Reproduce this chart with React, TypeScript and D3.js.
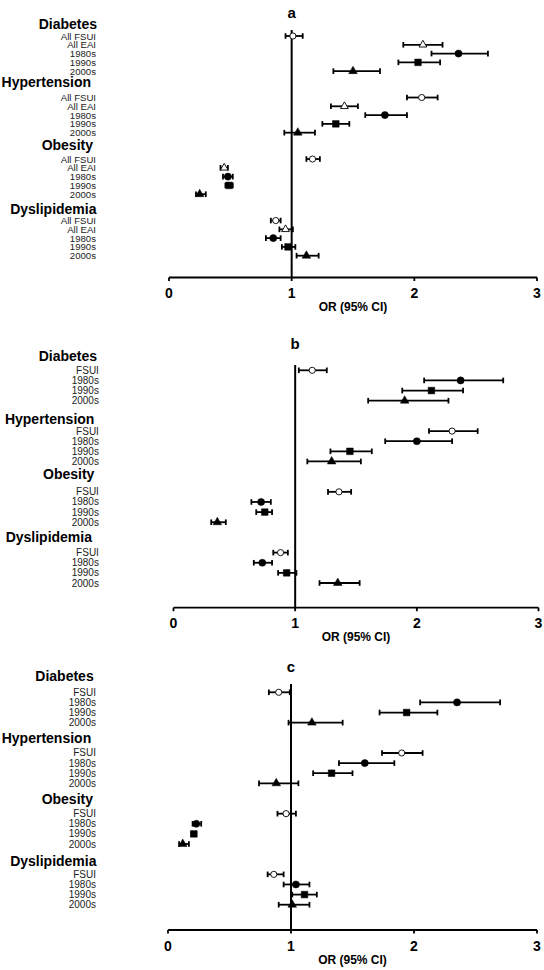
import React from "react";
import * as d3 from "d3";

// ---------- DATA ----------
const groups = ["Diabetes", "Hypertension", "Obesity", "Dyslipidemia"];
const rowsA = ["All FSUI", "All EAI", "1980s", "1990s", "2000s"];
const rowsBC = ["FSUI", "1980s", "1990s", "2000s"];
const markersA = ["openCircle", "openTriangle", "circle", "square", "triangle"];
const markersBC = ["openCircle", "circle", "square", "triangle"];
const tickValues = [0, 1, 2, 3];
const panelTitles = ["a", "b", "c"];
const axisTitle = "OR (95% CI)";

// panel a  (rows per group: All FSUI, All EAI, 1980s, 1990s, 2000s)
const orA = [
  [1.01, 2.07, 2.36, 2.03, 1.5],
  [2.06, 1.43, 1.76, 1.36, 1.05],
  [1.17, 0.45, 0.48, 0.49, 0.25],
  [0.87, 0.95, 0.85, 0.97, 1.12],
];
const loA = [
  [0.95, 1.91, 2.14, 1.87, 1.34],
  [1.94, 1.32, 1.6, 1.25, 0.94],
  [1.12, 0.42, 0.44, 0.46, 0.22],
  [0.83, 0.9, 0.79, 0.92, 1.04],
];
const hiA = [
  [1.09, 2.23, 2.6, 2.21, 1.72],
  [2.19, 1.54, 1.94, 1.47, 1.19],
  [1.23, 0.48, 0.52, 0.52, 0.3],
  [0.91, 1.01, 0.91, 1.03, 1.22],
];

// panel b  (rows per group: FSUI, 1980s, 1990s, 2000s)
const orB = [
  [1.14, 2.36, 2.12, 1.9],
  [2.29, 2.0, 1.45, 1.3],
  [1.36, 0.72, 0.75, 0.36],
  [0.88, 0.73, 0.93, 1.35],
];
const loB = [
  [1.03, 2.06, 1.88, 1.6],
  [2.1, 1.74, 1.29, 1.1],
  [1.27, 0.64, 0.68, 0.31],
  [0.82, 0.66, 0.86, 1.2],
];
const hiB = [
  [1.26, 2.71, 2.38, 2.26],
  [2.5, 2.29, 1.63, 1.54],
  [1.46, 0.8, 0.81, 0.43],
  [0.94, 0.81, 1.01, 1.53],
];

// panel c
const orC = [
  [0.9, 2.35, 1.94, 1.17],
  [1.9, 1.6, 1.33, 0.88],
  [0.96, 0.23, 0.21, 0.12],
  [0.86, 1.04, 1.11, 1.01],
];
const loC = [
  [0.82, 2.05, 1.72, 0.98],
  [1.74, 1.39, 1.18, 0.74],
  [0.89, 0.2, 0.19, 0.09],
  [0.81, 0.94, 1.01, 0.9],
];
const hiC = [
  [0.99, 2.7, 2.19, 1.42],
  [2.07, 1.84, 1.5, 1.06],
  [1.04, 0.27, 0.23, 0.17],
  [0.94, 1.15, 1.21, 1.15],
];

// ---------- LAYOUT ----------
const FONT = "Liberation Sans, Arial, Helvetica, sans-serif";

type Layout = {
  title: string;
  rows: string[];
  markers: string[];
  or: number[][];
  lo: number[][];
  hi: number[][];
  x0: number;
  x3: number;
  axisY: number;
  lineTop: number;
  titleY: number;
  firstRowY: number;
  lastRowY: number;
  headerY: number[];
  headerRight: number[];
  labelRight: number;
};

const panels: Layout[] = [
  {
    title: panelTitles[0], rows: rowsA, markers: markersA, or: orA, lo: loA, hi: hiA,
    x0: 169, x3: 537, axisY: 277.5, lineTop: 30, titleY: 12,
    firstRowY: 36, lastRowY: 255.7,
    headerY: [24.3, 81.7, 144.5, 209], headerRight: [97, 91, 93, 96.5], labelRight: 96,
  },
  {
    title: panelTitles[1], rows: rowsBC, markers: markersBC, or: orB, lo: loB, hi: hiB,
    x0: 173.5, x3: 538.5, axisY: 607.7, lineTop: 365, titleY: 343.3,
    firstRowY: 370.3, lastRowY: 583,
    headerY: [355.7, 419, 474.3, 536.7], headerRight: [97, 94.4, 94.4, 92], labelRight: 98.9,
  },
  {
    title: panelTitles[2], rows: rowsBC, markers: markersBC, or: orC, lo: loC, hi: hiC,
    x0: 168, x3: 537, axisY: 930, lineTop: 684, titleY: 666,
    firstRowY: 692.3, lastRowY: 904.7,
    headerY: [676, 738.3, 799.3, 860.7], headerRight: [93.7, 91.2, 93, 96.5], labelRight: 96,
  },
];

const symbolFor = (m: string) => {
  if (m === "openCircle") return d3.symbol().type(d3.symbolCircle).size(30)();
  if (m === "circle") return d3.symbol().type(d3.symbolCircle).size(40)();
  if (m === "square") return d3.symbol().type(d3.symbolSquare).size(44)();
  if (m === "openTriangle") return d3.symbol().type(d3.symbolTriangle).size(26)();
  return d3.symbol().type(d3.symbolTriangle).size(32)();
};

function Panel({ p }: { p: Layout }) {
  const x = d3.scaleLinear().domain([0, 3]).range([p.x0, p.x3]);
  const nPer = p.rows.length;
  const stride = nPer + 2;
  const totalIdx = groups.length * stride - 3; // index of last row
  const y = d3.scaleLinear().domain([0, totalIdx]).range([p.firstRowY, p.lastRowY]);
  const cap = 2.8;
  const labelSize = nPer === 5 ? 9.6 : 10;

  return (
    <g>
      <text x={x(1)} y={p.titleY} textAnchor="middle" dominantBaseline="central"
        fontFamily={FONT} fontWeight="bold" fontSize={15}>{p.title}</text>

      {groups.map((g, gi) => (
        <g key={g}>
          <text x={p.headerRight[gi]} y={p.headerY[gi]} textAnchor="end" dominantBaseline="central"
            fontFamily={FONT} fontWeight="bold" fontSize={14}>{g}</text>
          {p.rows.map((r, ri) => {
            const yy = y(gi * stride + ri);
            return (
              <text key={r} x={p.labelRight} y={yy} textAnchor="end" dominantBaseline="central"
                fontFamily={FONT} fontSize={labelSize} fill="#222">{r}</text>
            );
          })}
        </g>
      ))}

      {/* reference line at OR = 1 */}
      <line x1={x(1)} x2={x(1)} y1={p.lineTop} y2={p.axisY} stroke="#000" strokeWidth={2} />

      {/* axis */}
      <line x1={p.x0} x2={p.x3} y1={p.axisY} y2={p.axisY} stroke="#000" strokeWidth={1.8} />
      {tickValues.map((t) => (
        <g key={t}>
          <line x1={x(t)} x2={x(t)} y1={p.axisY} y2={p.axisY + 3.5} stroke="#000" strokeWidth={1.8} />
          <text x={x(t)} y={p.axisY + 15.5} textAnchor="middle" dominantBaseline="central"
            fontFamily={FONT} fontWeight="bold" fontSize={14}>{t}</text>
        </g>
      ))}
      <text x={(p.x0 + p.x3) / 2} y={p.axisY + 29.5} textAnchor="middle" dominantBaseline="central"
        fontFamily={FONT} fontWeight="bold" fontSize={12}>{axisTitle}</text>

      {/* error bars and points */}
      {groups.map((g, gi) =>
        p.rows.map((r, ri) => {
          const yy = y(gi * stride + ri);
          const m = p.markers[ri];
          const open = m.startsWith("open");
          const xl = x(p.lo[gi][ri]);
          const xh = x(p.hi[gi][ri]);
          const xm = x(p.or[gi][ri]);
          return (
            <g key={g + r}>
              <line x1={xl} x2={xh} y1={yy} y2={yy} stroke="#000" strokeWidth={1.8} />
              <line x1={xl} x2={xl} y1={yy - cap} y2={yy + cap} stroke="#000" strokeWidth={1.8} />
              <line x1={xh} x2={xh} y1={yy - cap} y2={yy + cap} stroke="#000" strokeWidth={1.8} />
              <path d={symbolFor(m) || ""} transform={`translate(${xm},${yy})`}
                fill={open ? "#fff" : "#000"} stroke="#000" strokeWidth={open ? 0.9 : 0.5} />
            </g>
          );
        })
      )}
    </g>
  );
}

export default function App() {
  return (
    <svg width={544} height={970} style={{ position: "absolute", left: 0, top: 0, background: "#fff" }}>
      <rect width={544} height={970} fill="#fff" />
      {panels.map((p) => (
        <Panel key={p.title} p={p} />
      ))}
    </svg>
  );
}
